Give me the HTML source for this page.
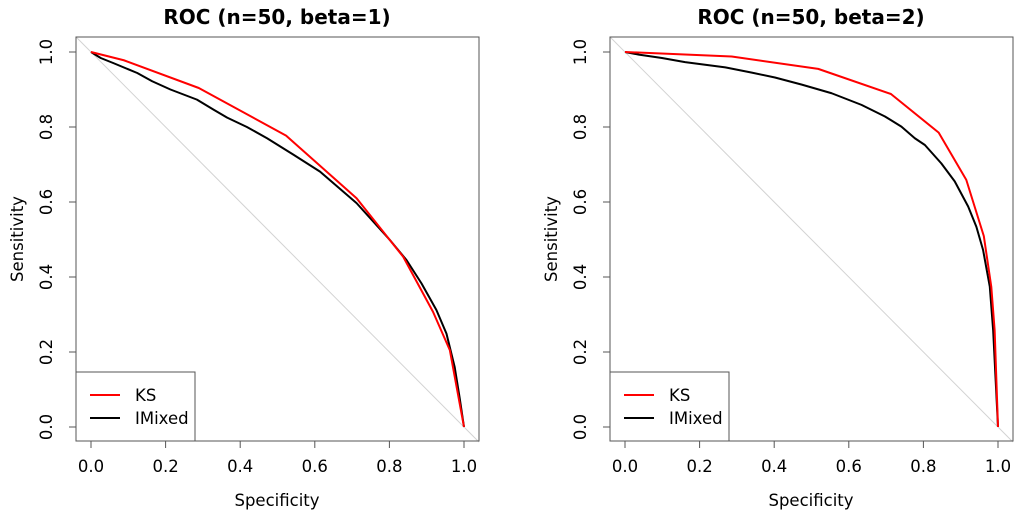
<!DOCTYPE html>
<html><head><meta charset="utf-8"><style>
body{margin:0;background:#fff}
text{font-family:"DejaVu Sans","Liberation Sans",sans-serif}
</style></head><body>
<svg id="s" width="1024" height="521" xmlns="http://www.w3.org/2000/svg"></svg>
<script>
const ticks=[0,0.2,0.4,0.6,0.8,1.0];
const tickLabels=["0.0","0.2","0.4","0.6","0.8","1.0"];
const titles=["ROC (n=50, beta=1)","ROC (n=50, beta=2)"];
const ks1x=[0,0.088,0.289,0.523,0.712,0.80,0.837,0.917,0.962,1];
const ks1y=[1,0.978,0.904,0.777,0.61,0.5,0.454,0.307,0.205,0];
const im1x=[0,0.026,0.061,0.124,0.164,0.213,0.284,0.329,0.365,0.418,0.472,0.543,0.614,0.712,0.801,0.846,0.886,0.926,0.953,0.975,0.988,1];
const im1y=[1,0.984,0.97,0.944,0.922,0.9,0.873,0.846,0.825,0.8,0.77,0.726,0.681,0.597,0.499,0.445,0.383,0.312,0.249,0.16,0.08,0];
const ks2x=[0,0.286,0.518,0.713,0.841,0.915,0.962,0.982,0.991,1];
const ks2y=[1,0.988,0.955,0.888,0.785,0.659,0.509,0.374,0.258,0];
const im2x=[0,0.037,0.099,0.161,0.269,0.34,0.402,0.474,0.554,0.634,0.697,0.741,0.777,0.804,0.848,0.884,0.92,0.942,0.96,0.978,0.987,1];
const im2y=[1,0.993,0.984,0.973,0.959,0.945,0.932,0.913,0.89,0.859,0.828,0.801,0.77,0.752,0.703,0.655,0.588,0.534,0.472,0.374,0.258,0];
const NS="http://www.w3.org/2000/svg",svg=document.getElementById('s');
const FS=16.5;
function mk(t,a,p){const e=document.createElementNS(NS,t);for(const k in a)e.setAttribute(k,a[k]);(p||svg).appendChild(e);return e;}
function panel(ox,idx,kx,ky,ix,iy){
  const X=v=>ox+15+v*373, Y=v=>427-v*375;
  const g=mk('g',{});
  
  
  const d=mk('line',{x1:X(-0.04),y1:Y(1.04),x2:X(1.04),y2:Y(-0.04),stroke:'#d3d3d3','stroke-width':1},g);
  
  
  const line=(xs,ys,c,n)=>{const p=mk('polyline',{points:xs.map((v,i)=>X(v)+','+Y(ys[i])).join(' '),fill:'none',stroke:c,'stroke-width':2,'stroke-linejoin':'round'},g);
    
    };
  line(ix,iy,'#000','imixed-curve');
  line(kx,ky,'#f00','ks-curve');
  const b=mk('rect',{x:ox,y:37,width:403,height:404,fill:'none',stroke:'#555','stroke-width':1},g);
  
  
  ticks.forEach((t,i)=>{
    mk('line',{x1:X(t),y1:441,x2:X(t),y2:448,stroke:'#555'},g);
    const tx=mk('text',{x:X(t),y:472,'font-size':FS,'text-anchor':'middle'},g);tx.textContent=tickLabels[i];
    
    
    mk('line',{x1:ox,y1:Y(t),x2:ox-7,y2:Y(t),stroke:'#555'},g);
    const ty=mk('text',{x:0,y:0,'font-size':FS,'text-anchor':'middle',transform:`translate(${ox-24},${Y(t)}) rotate(-90)`},g);ty.textContent=tickLabels[i];
    
    
  });
  const tt=mk('text',{x:ox+201,y:24,'font-size':20,'font-weight':'bold','text-anchor':'middle'},g);tt.textContent=titles[idx];
  
  
  const xt=mk('text',{x:ox+201,y:506,'font-size':FS,'text-anchor':'middle'},g);xt.textContent='Specificity';
  
  
  const yt=mk('text',{x:0,y:0,'font-size':FS,'text-anchor':'middle',transform:`translate(${ox-53},239) rotate(-90)`},g);yt.textContent='Sensitivity';
  
  
  const lg=mk('g',{},g);
  
  
  mk('rect',{x:ox,y:372,width:119,height:69,fill:'#fff',stroke:'#555'},lg);
  mk('line',{x1:ox+14,y1:395,x2:ox+44,y2:395,stroke:'#f00','stroke-width':2},lg);
  mk('line',{x1:ox+14,y1:418,x2:ox+44,y2:418,stroke:'#000','stroke-width':2},lg);
  const l1=mk('text',{x:ox+59,y:401,'font-size':FS},lg);l1.textContent='KS';
  
  
  const l2=mk('text',{x:ox+59,y:424,'font-size':FS},lg);l2.textContent='IMixed';
  
  
}
panel(76,0,ks1x,ks1y,im1x,im1y);
panel(610,1,ks2x,ks2y,im2x,im2y);
</script>
</body></html>
